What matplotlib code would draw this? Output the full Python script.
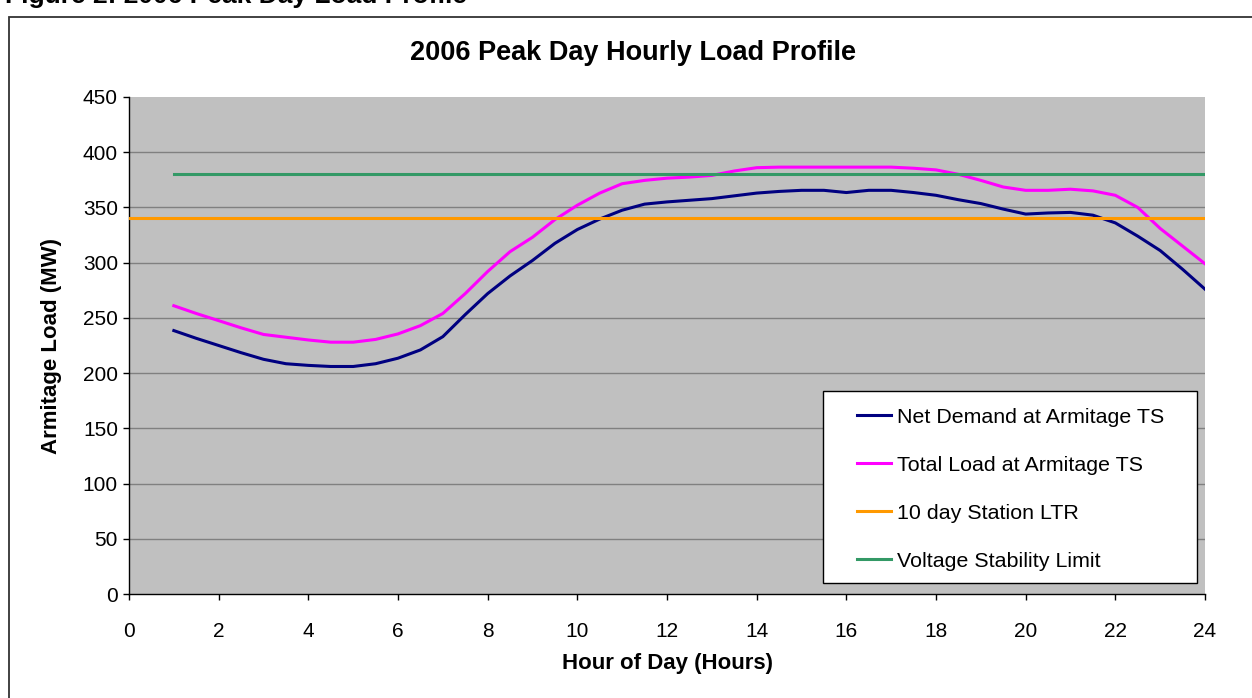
import matplotlib
matplotlib.use("Agg")
import matplotlib.pyplot as plt
from matplotlib.patches import Rectangle

plt.rcParams['font.family'] = ['Liberation Sans', 'DejaVu Sans']

# ---- data ----
hours = [1, 1.5, 2, 2.5, 3, 3.5, 4, 4.5, 5, 5.5, 6, 6.5, 7, 7.5, 8, 8.5, 9, 9.5,
         10, 10.5, 11, 11.5, 12, 12.5, 13, 13.5, 14, 14.5, 15, 15.5, 16, 16.5,
         17, 17.5, 18, 18.5, 19, 19.5, 20, 20.5, 21, 21.5, 22, 22.5, 23, 23.5, 24]
net_demand = [238.5, 231.5, 225, 218.5, 212.5, 208.5, 207, 206, 206, 208.5, 213.5,
              221, 233, 253, 272, 288, 302, 317.5, 330, 339.5, 347.5, 353, 355,
              356.5, 358, 360.5, 363, 364.5, 365.5, 365.5, 363.5, 365.5, 365.5,
              363.5, 361, 357, 353.5, 348.5, 344, 345, 345.5, 343, 336, 324, 311,
              294, 276]
total_load = [261, 254, 247.5, 241, 235, 232.5, 230, 228, 228, 230.5, 235.5, 243,
              254, 272, 292, 310, 323, 339, 352, 363, 371.5, 374.5, 376.5, 377.5,
              379, 383, 386, 386.5, 386.5, 386.5, 386.5, 386.5, 386.5, 385.5, 384,
              380, 374.5, 368.5, 365.5, 365.5, 366.5, 365, 361, 350, 331, 315, 299]
ltr_x = [0, 24]
ltr_y = [340, 340]
vsl_x = [1, 24]
vsl_y = [380, 380]
series_labels = ["Net Demand at Armitage TS", "Total Load at Armitage TS",
                 "10 day Station LTR", "Voltage Stability Limit"]
x_ticks = list(range(0, 25, 2))
y_ticks = list(range(0, 451, 50))

fig = plt.figure(figsize=(12.52, 6.98), dpi=100)
fig.patch.set_facecolor('white')

# outer frame (right/bottom edges fall outside the image)
fig.add_artist(Rectangle((9 / 1252, -0.1), 1.2, 1 - 17 / 698 + 0.1,
                         transform=fig.transFigure, fill=False,
                         edgecolor='#333333', linewidth=1.3))
fig.text(5 / 1252, 1 - 3 / 698, "Figure 2: 2006 Peak Day Load Profile",
         fontsize=19, fontweight='bold', ha='left', va='baseline')
fig.text(633 / 1252, 1 - 53 / 698, "2006 Peak Day Hourly Load Profile",
         fontsize=19.5, fontweight='bold', ha='center', va='center')

ax = fig.add_axes([129 / 1252, 1 - 594 / 698, 1076 / 1252, 497 / 698])
ax.set_facecolor('#C0C0C0')

for yv in y_ticks[1:-1]:
    ax.axhline(yv, color='#808080', linewidth=1.0, zorder=1)

lw = 2.2
ax.plot(hours, net_demand, color='#000080', linewidth=lw, label=series_labels[0], zorder=3)
ax.plot(hours, total_load, color='#FF00FF', linewidth=lw, label=series_labels[1], zorder=3)
ax.plot(ltr_x, ltr_y, color='#FF9900', linewidth=lw, label=series_labels[2], zorder=3)
ax.plot(vsl_x, vsl_y, color='#339966', linewidth=lw, label=series_labels[3], zorder=3)

ax.set_xlim(0, 24)
ax.set_ylim(0, 450)
ax.set_xticks(x_ticks)
ax.set_yticks(y_ticks)
ax.tick_params(axis='both', direction='out', length=4.5, width=1, labelsize=15,
               colors='black')
ax.tick_params(axis='x', pad=15.5)
ax.tick_params(axis='y', pad=3.5)
for s in ['top', 'right']:
    ax.spines[s].set_visible(False)
for s in ['left', 'bottom']:
    ax.spines[s].set_color('black')
    ax.spines[s].set_linewidth(1)

ax.set_xlabel("Hour of Day (Hours)", fontsize=16, fontweight='bold', labelpad=8.5)
ax.set_ylabel("Armitage Load (MW)", fontsize=16, fontweight='bold', labelpad=15)

# legend box
ax.add_patch(Rectangle((0.645, 0.022), 0.3476, 0.3865, transform=ax.transAxes,
                       facecolor='white', edgecolor='black', linewidth=1,
                       zorder=4))
leg = ax.legend(loc='upper left', bbox_to_anchor=(0.6766, 0.375),
                borderaxespad=0, borderpad=0, fontsize=15.4, frameon=False,
                handlelength=1.59, handletextpad=0.28, labelspacing=1.36)
leg.set_zorder(5)

fig.savefig("out.png", dpi=100)
